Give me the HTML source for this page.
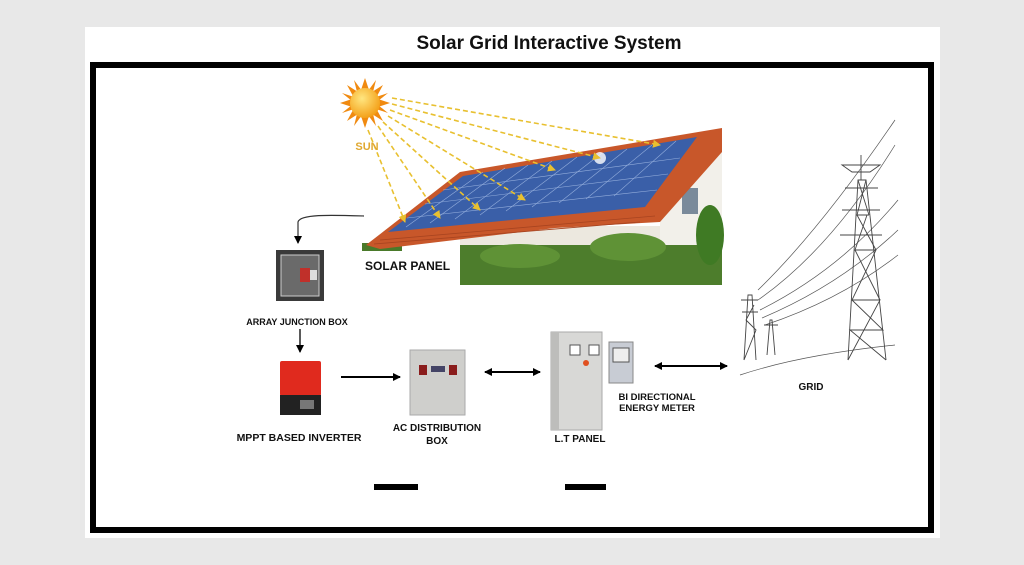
<!DOCTYPE html>
<html><head><meta charset="utf-8"><style>
html,body{margin:0;padding:0;background:#e8e8e8;}
body{width:1024px;height:565px;position:relative;overflow:hidden;font-family:"Liberation Sans",sans-serif;}
</style></head><body>
<svg width="1024" height="565" viewBox="0 0 1024 565" style="position:absolute;left:0;top:0">
<defs>
<marker id="ah" markerWidth="8" markerHeight="8" refX="7" refY="4" orient="auto" markerUnits="userSpaceOnUse"><path d="M0,0 L8,4 L0,8 Z" fill="#000"/></marker>
<marker id="ahs" markerWidth="8" markerHeight="8" refX="1" refY="4" orient="auto" markerUnits="userSpaceOnUse"><path d="M8,0 L0,4 L8,8 Z" fill="#000"/></marker>
<marker id="ya" markerWidth="8" markerHeight="8" refX="7" refY="4" orient="auto" markerUnits="userSpaceOnUse"><path d="M0,0 L8,4 L0,8 Z" fill="#e8c030"/></marker>
<radialGradient id="sg" cx="0.4" cy="0.35" r="0.7"><stop offset="0" stop-color="#ffe680"/><stop offset="1" stop-color="#f39c12"/></radialGradient>
</defs>
<rect x="85" y="27" width="855" height="511" fill="#fff"/>
<text x="549" y="49" text-anchor="middle" font-size="19" font-weight="bold" fill="#111">Solar Grid Interactive System</text>
<rect x="93" y="65" width="838" height="465" fill="none" stroke="#000" stroke-width="6"/>

<!-- house -->
<rect x="362" y="243" width="40" height="8" fill="#4a7a2a"/>
<polygon points="660,222 722,150 722,248 660,248" fill="#f2f0ea"/>
<rect x="460" y="226" width="200" height="24" fill="#ece8df"/>
<rect x="682" y="188" width="16" height="26" fill="#7a8a9a"/>
<polygon points="366,245 460,172 722,128 722,152 660,222 555,228 380,249" fill="#c8572a"/>
<g stroke="#a84420" stroke-width="0.8">
<line x1="380" y1="240" x2="655" y2="216"/><line x1="374" y1="244" x2="640" y2="222"/>
</g>
<polygon points="388,232 463,176 697,137 645,207" fill="#3a5fa8"/>
<g stroke="#a9c0e8" stroke-width="0.6" opacity="0.8">
<line x1="406" y1="227" x2="483" y2="172"/><line x1="430" y1="223" x2="505" y2="168"/><line x1="455" y1="219" x2="528" y2="165"/>
<line x1="480" y1="215" x2="552" y2="161"/><line x1="506" y1="211" x2="577" y2="157"/><line x1="532" y1="207" x2="602" y2="153"/>
<line x1="559" y1="203" x2="627" y2="149"/><line x1="586" y1="199" x2="652" y2="145"/><line x1="614" y1="196" x2="676" y2="141"/>
<line x1="407" y1="218" x2="657" y2="190"/><line x1="425" y1="204" x2="668" y2="174"/><line x1="443" y1="190" x2="680" y2="158"/>
</g>
<circle cx="600" cy="158" r="6" fill="#fff" opacity="0.8"/>
<rect x="460" y="245" width="262" height="40" fill="#4d7d2c"/>
<ellipse cx="520" cy="256" rx="40" ry="12" fill="#5f9236"/>
<ellipse cx="628" cy="247" rx="38" ry="14" fill="#5f9236"/>
<ellipse cx="710" cy="235" rx="14" ry="30" fill="#3f7a24"/>
<text x="365" y="270" font-size="12" font-weight="bold" fill="#111">SOLAR PANEL</text>

<!-- sun -->
<g stroke="#e8c030" stroke-width="1.6" stroke-dasharray="5,3" fill="none">
<line x1="392" y1="98" x2="660" y2="145" marker-end="url(#ya)"/>
<line x1="392" y1="104" x2="600" y2="158" marker-end="url(#ya)"/>
<line x1="390" y1="110" x2="555" y2="170" marker-end="url(#ya)"/>
<line x1="388" y1="116" x2="525" y2="200" marker-end="url(#ya)"/>
<line x1="383" y1="122" x2="480" y2="210" marker-end="url(#ya)"/>
<line x1="378" y1="126" x2="440" y2="218" marker-end="url(#ya)"/>
<line x1="368" y1="130" x2="405" y2="222" marker-end="url(#ya)"/>
</g>
<g fill="#f08a10">
<polygon points="365,78 369,90 361,90"/><polygon points="365,128 369,116 361,116"/>
<polygon points="340,103 352,99 352,107"/><polygon points="390,103 378,99 378,107"/>
<polygon points="347,85 358,92 353,96"/><polygon points="383,85 372,92 377,96"/>
<polygon points="347,121 358,114 353,110"/><polygon points="383,121 372,114 377,110"/>
<polygon points="354,80 362,91 357,92"/><polygon points="376,80 368,91 373,92"/>
<polygon points="354,126 362,115 357,114"/><polygon points="376,126 368,115 373,114"/>
<polygon points="342,93 354,97 352,101"/><polygon points="388,93 376,97 378,101"/>
<polygon points="342,113 354,109 352,105"/><polygon points="388,113 376,109 378,105"/>
</g>
<circle cx="365" cy="103" r="15" fill="url(#sg)"/>
<text x="367" y="150" text-anchor="middle" font-size="11" font-weight="bold" fill="#e0a830">SUN</text>

<!-- connector to junction box -->
<path d="M364,216 C330,215 300,214 298,222 L298,243" fill="none" stroke="#333" stroke-width="1.2" marker-end="url(#ah)"/>
<rect x="276" y="250" width="48" height="51" fill="#3a3a3a"/>
<rect x="281" y="255" width="38" height="41" fill="#6a6a6a" stroke="#ccc" stroke-width="1"/>
<rect x="300" y="268" width="10" height="14" fill="#c0302a"/>
<rect x="310" y="270" width="7" height="10" fill="#ddd"/>
<text x="297" y="325" text-anchor="middle" font-size="9" font-weight="bold" fill="#111">ARRAY JUNCTION BOX</text>
<line x1="300" y1="329" x2="300" y2="352" stroke="#000" stroke-width="1.3" marker-end="url(#ah)"/>

<!-- inverter -->
<rect x="280" y="361" width="41" height="35" rx="2" fill="#e02a1e"/>
<rect x="280" y="395" width="41" height="20" fill="#222"/>
<rect x="300" y="400" width="14" height="9" fill="#777"/>
<text x="299" y="441" text-anchor="middle" font-size="10.5" font-weight="bold" fill="#111">MPPT BASED INVERTER</text>
<line x1="341" y1="377" x2="400" y2="377" stroke="#000" stroke-width="2" marker-end="url(#ah)"/>

<!-- AC box -->
<rect x="410" y="350" width="55" height="65" fill="#cfcfcc" stroke="#aaa"/>
<rect x="419" y="365" width="8" height="10" fill="#8a1c1c"/>
<rect x="449" y="365" width="8" height="10" fill="#8a1c1c"/>
<rect x="431" y="366" width="14" height="6" fill="#446"/>
<text x="437" y="431" text-anchor="middle" font-size="10" font-weight="bold" fill="#111">AC DISTRIBUTION</text>
<text x="437" y="444" text-anchor="middle" font-size="10" font-weight="bold" fill="#111">BOX</text>
<line x1="485" y1="372" x2="540" y2="372" stroke="#000" stroke-width="2" marker-end="url(#ah)" marker-start="url(#ahs)"/>

<!-- LT panel -->
<rect x="551" y="332" width="51" height="98" fill="#d8d8d6" stroke="#aaa"/>
<rect x="551" y="332" width="8" height="98" fill="#bdbdbb"/>
<rect x="570" y="345" width="10" height="10" fill="#fff" stroke="#555"/>
<rect x="589" y="345" width="10" height="10" fill="#fff" stroke="#555"/>
<circle cx="586" cy="363" r="3" fill="#e05020"/>
<rect x="609" y="342" width="24" height="41" fill="#c8ccd4" stroke="#888"/>
<rect x="613" y="348" width="16" height="14" fill="#eee" stroke="#555"/>
<text x="580" y="442" text-anchor="middle" font-size="10" font-weight="bold" fill="#111">L.T PANEL</text>
<text x="657" y="400" text-anchor="middle" font-size="9.5" font-weight="bold" fill="#111">BI DIRECTIONAL</text>
<text x="657" y="411" text-anchor="middle" font-size="9.5" font-weight="bold" fill="#111">ENERGY METER</text>
<line x1="655" y1="366" x2="727" y2="366" stroke="#000" stroke-width="2" marker-end="url(#ah)" marker-start="url(#ahs)"/>

<!-- grid -->
<g stroke="#555" stroke-width="0.7" fill="none">
<path d="M758,290 Q820,230 895,120"/><path d="M758,300 Q830,250 895,145"/>
<path d="M760,310 Q840,270 898,200"/><path d="M762,318 Q840,285 898,230"/>
<path d="M765,325 Q840,300 898,255"/><path d="M740,375 Q800,355 895,345"/>
</g>
<g stroke="#444" stroke-width="0.9" fill="none">
<path d="M848,360 L858,180 L866,180 L886,360"/>
<path d="M852,300 L880,300 M855,250 L876,250 M850,330 L883,330 M857,215 L869,215"/>
<path d="M848,360 L880,300 L852,300 L876,250 L855,250 L867,215 L857,215 L866,180"/>
<path d="M886,360 L850,330 L883,330 L852,300 M880,300 L855,250 M876,250 L857,215 M869,215 L858,180"/>
<path d="M842,165 L880,165 L870,172 L852,172 Z M845,188 L878,188 M842,210 L880,210 M840,235 L882,235"/>
<path d="M861,155 L861,180"/>
<path d="M744,360 L748,295 L752,295 L756,360 M741,300 L758,300 M742,312 L758,312 M744,360 L756,330 L746,320 L754,305"/>
<path d="M767,355 L770,320 L772,320 L775,355 M764,325 L778,325"/>
</g>
<text x="811" y="390" text-anchor="middle" font-size="10" font-weight="bold" fill="#111">GRID</text>

<rect x="374" y="484" width="44" height="6" fill="#000"/>
<rect x="565" y="484" width="41" height="6" fill="#000"/>
</svg>
</body></html>
